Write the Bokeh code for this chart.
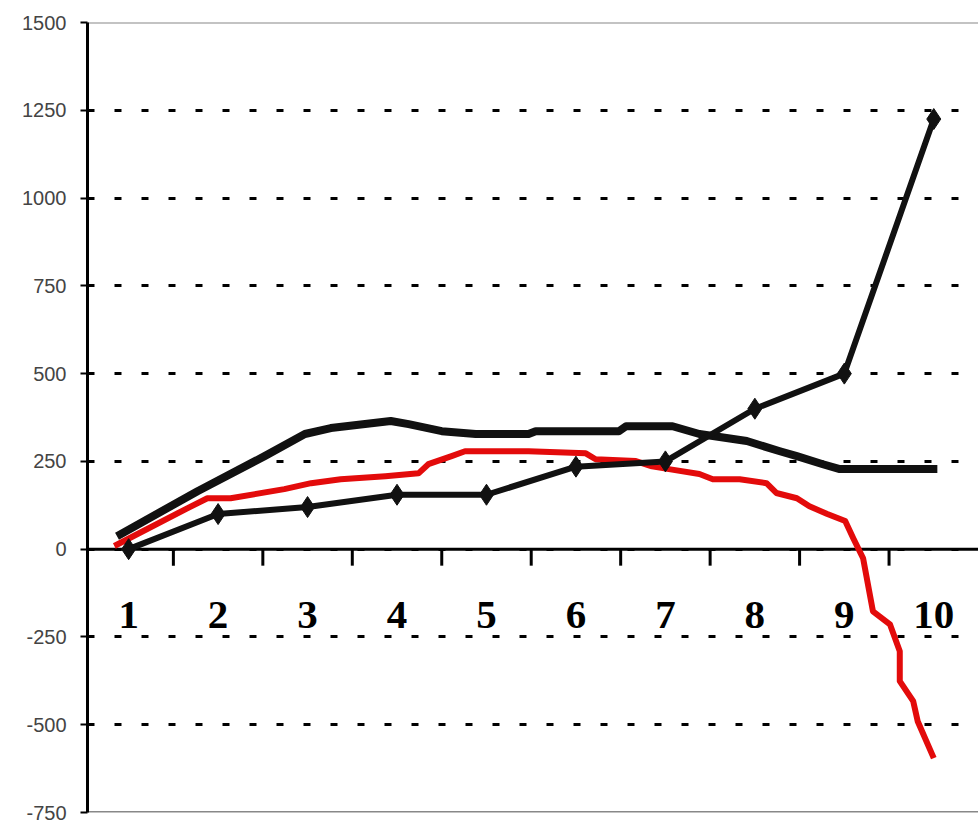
from bokeh.plotting import figure
from bokeh.models import Range1d, Span, FixedTicker
from bokeh.core.properties import value
from bokeh.embed import file_html
from bokeh.resources import INLINE

# ---- data ----
categories = [1, 2, 3, 4, 5, 6, 7, 8, 9, 10]
cat_labels = ["1", "2", "3", "4", "5", "6", "7", "8", "9", "10"]
y_ticks = [-750, -500, -250, 0, 250, 500, 750, 1000, 1250, 1500]
y_tick_labels = ["-750", "-500", "-250", "0", "250", "500", "750", "1000", "1250", "1500"]

# black series with markers (one value per category)
marker_y = [0, 100, 120, 155, 155, 235, 250, 400, 500, 1225]

# thick black series (traced)
thick_x = [0.87, 1.77, 2.52, 2.97, 3.26, 3.93, 4.13, 4.50, 4.88, 5.47, 5.55,
           6.48, 6.56, 7.08, 7.38, 7.91, 8.28, 8.47, 8.76, 8.95, 10.04]
thick_y = [37, 165, 265, 328, 345, 365, 356, 336, 328, 328, 336,
           336, 350, 350, 328, 308, 279, 265, 242, 228, 228]

# red series (traced)
red_x = [0.84, 1.66, 1.88, 2.14, 2.74, 3.04, 3.37, 3.87, 4.24, 4.35, 4.61, 4.76,
         5.47, 6.11, 6.22, 6.67, 6.85, 7.04, 7.38, 7.53, 7.83, 8.13, 8.24, 8.47,
         8.61, 8.81, 9.01, 9.10, 9.21, 9.32, 9.51, 9.62, 9.62, 9.77, 9.82, 10.0]
red_y = [9, 117, 145, 145, 171, 188, 199, 208, 216, 242, 265, 279,
         279, 273, 256, 251, 236, 228, 214, 199, 199, 188, 160, 145,
         122, 100, 80, 31, -26, -177, -214, -291, -376, -433, -490, -595]

label_y = -188
tick_len = 47

boundaries = [c + 0.5 for c in categories[:-1]]

p = figure(width=978, height=822, output_backend="svg", toolbar_location=None,
           x_range=Range1d(0.54, 10.5), y_range=Range1d(y_ticks[0], y_ticks[-1]),
           x_axis_location=None,
           min_border_left=87, min_border_top=22, min_border_bottom=10, min_border_right=0)
p.outline_line_color = None
p.background_fill_color = "white"

# y axis
p.yaxis.ticker = FixedTicker(ticks=y_ticks)
p.yaxis.major_label_overrides = {t: s for t, s in zip(y_ticks, y_tick_labels)}
p.yaxis.axis_line_width = 3
p.yaxis.axis_line_color = "black"
p.yaxis.major_tick_out = 7
p.yaxis.major_tick_in = 0
p.yaxis.major_tick_line_width = 2
p.yaxis.minor_tick_line_color = None
p.yaxis.major_label_text_font_size = "20px"
p.yaxis.major_label_text_color = "#444444"
p.yaxis.major_label_text_font = "Liberation Sans"
p.yaxis.major_label_standoff = 14

# grid
p.xgrid.grid_line_color = None
p.ygrid.ticker = FixedTicker(ticks=y_ticks)
p.ygrid.grid_line_color = "black"
p.ygrid.grid_line_dash = "7 20"
p.ygrid.grid_line_width = 3

# top / bottom frame lines
p.add_layout(Span(location=y_ticks[-1], dimension="width", line_color="#888888",
                  line_width=2, level="underlay"))
p.add_layout(Span(location=y_ticks[0], dimension="width", line_color="#888888",
                  line_width=3, level="underlay"))

# zero line and category ticks
p.add_layout(Span(location=0, dimension="width", line_color="black",
                  line_width=3, level="underlay"))
p.segment(x0=boundaries, y0=[0] * len(boundaries), x1=boundaries,
          y1=[-tick_len] * len(boundaries), line_color="black", line_width=3)

# category labels
p.text(x=categories, y=[label_y] * len(categories), text=cat_labels,
       text_align="center", text_baseline="middle", text_font_size="41px",
       text_font=value("Liberation Serif"), text_font_style="bold",
       text_color="black")

# series
p.line(thick_x, thick_y, line_color="#111111", line_width=8, line_join="round")
p.line(red_x, red_y, line_color="#e30b0b", line_width=6, line_join="round")
p.line(categories, marker_y, line_color="#111111", line_width=6, line_join="round")
p.scatter(categories, marker_y, marker="diamond", size=21, fill_color="#111111",
          line_color="#111111")

open("out.html", "w").write(file_html(p, INLINE))
